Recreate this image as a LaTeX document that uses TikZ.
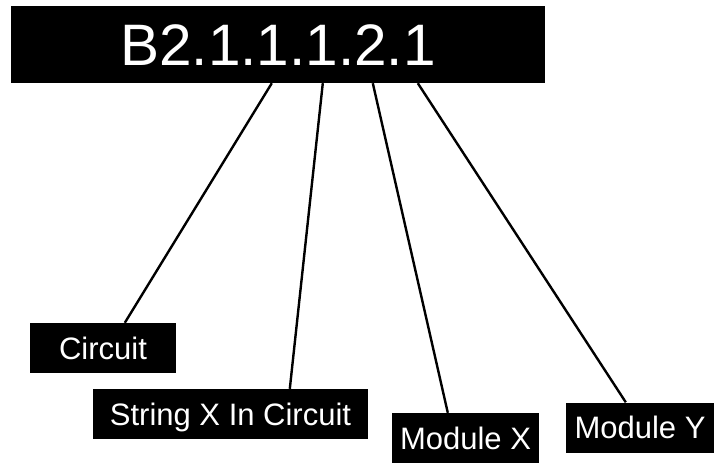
\documentclass[tikz,border=0pt]{standalone}
\usepackage{fontspec}
\setmainfont{Liberation Sans}
\begin{document}
\begin{tikzpicture}[x=1pt, y=-1pt,
    tag/.style={fill=black, text=white, inner sep=0pt, text depth=0pt},
    part/.style={tag, font=\fontsize{31}{31}\selectfont, text height=22pt, minimum height=50pt},
    link/.style={line width=2.4pt}]
    \useasboundingbox (0,0) rectangle (715,463);
    \node[tag, font=\fontsize{58.5}{58.5}\selectfont, text height=42pt, minimum width=534pt, minimum height=77pt] (code) at (278,44.5) {B2.1.1.1.2.1};
    \node[part, minimum width=146pt] (circuit) at (103,348) {Circuit};
    \node[part, minimum width=275pt] (string) at (230.5,414) {String X In Circuit};
    \node[part, minimum width=147pt] (modx) at (465.5,438) {Module X};
    \node[part, minimum width=148pt] (mody) at (640,427.5) {Module Y};
    \draw[link] ([xshift=261pt]code.south west) -- ([xshift=95pt]circuit.north west);
    \draw[link] ([xshift=312pt]code.south west) -- ([xshift=197pt]string.north west);
    \draw[link] ([xshift=362pt]code.south west) -- ([xshift=56pt]modx.north west);
    \draw[link] ([xshift=407pt]code.south west) -- ([xshift=60pt]mody.north west);
\end{tikzpicture}
\end{document}
